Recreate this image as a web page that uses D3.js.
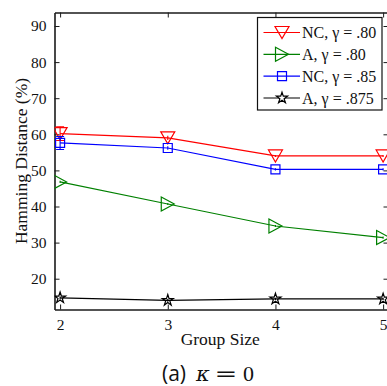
<!DOCTYPE html>
<html>
<head>
<meta charset="utf-8">
<script src="https://cdn.jsdelivr.net/npm/d3@7"></script>
<style>
  html, body { margin: 0; padding: 0; background: #fff; }
  svg { display: block; }
</style>
</head>
<body>
<svg id="chart" width="387" height="386"></svg>
<script>
// Group sizes on the x axis
const groupSizes = [2, 3, 4, 5];

// Hamming distance (%) per series
const ncGamma80 = [60.2, 59.0, 54.0, 54.0];
const aGamma80 = [46.8, 40.7, 34.6, 31.4];
const ncGamma85 = [57.6, 56.2, 50.3, 50.3];
const aGamma875 = [14.7, 14.0, 14.4, 14.4];

// Error bar half-widths
const ncGamma80Err = [1.9, 0.6, 0.3, 0.3];
const ncGamma85Err = [1.8, 0.5, 0.3, 0.3];
const aGamma80Err = [0.3, 0.3, 0.3, 0.3];
const aGamma875Err = [0.4, 0.4, 0.3, 0.3];

// Tick labels
const yTicks = [20, 30, 40, 50, 60, 70, 80, 90];
const xTicks = [2, 3, 4, 5];

const seriesNames = ["NC, γ = .80", "A, γ = .80", "NC, γ = .85", "A, γ = .875"];
const seriesColors = ["#ff0000", "#008000", "#0000ff", "#000000"];
const seriesMarkers = ["triDown", "triRight", "square", "star"];

const series = [
  { name: seriesNames[0], values: ncGamma80, err: ncGamma80Err, color: seriesColors[0], marker: seriesMarkers[0] },
  { name: seriesNames[1], values: aGamma80, err: aGamma80Err, color: seriesColors[1], marker: seriesMarkers[1] },
  { name: seriesNames[2], values: ncGamma85, err: ncGamma85Err, color: seriesColors[2], marker: seriesMarkers[2] },
  { name: seriesNames[3], values: aGamma875, err: aGamma875Err, color: seriesColors[3], marker: seriesMarkers[3] }
];

const svg = d3.select("#chart");
const serif = "'Liberation Serif', 'Times New Roman', serif";

const plot = { left: 54.5, right: 388.5, top: 12.5, bottom: 309.5 };

const x = d3.scaleLinear().domain([1.948, 5.05]).range([plot.left, plot.right]);
const y = d3.scaleLinear().domain([11.47, 93.74]).range([plot.bottom, plot.top]);

// Marker shapes drawn around (0,0)
function markerPath(type) {
  const p = d3.path();
  if (type === "triDown") {
    const w = 7, h = 6;
    p.moveTo(-w, -h); p.lineTo(w, -h); p.lineTo(0, h); p.closePath();
  } else if (type === "triRight") {
    const w = 6.5, h = 7;
    p.moveTo(-w, -h); p.lineTo(w, 0); p.lineTo(-w, h); p.closePath();
  } else if (type === "square") {
    const s = 4.5;
    p.rect(-s, -s, 2 * s, 2 * s);
  } else {
    return d3.symbol(d3.symbolStar, 38)();
  }
  return p.toString();
}

const clipId = "plot-clip";
svg.append("defs").append("clipPath").attr("id", clipId)
  .append("rect")
  .attr("x", plot.left).attr("y", plot.top)
  .attr("width", plot.right - plot.left).attr("height", plot.bottom - plot.top);

// Axes: box with inward ticks
const axisColor = "#1a1a1a";
const tickLen = 5;

const axisLeft = d3.axisLeft(y).tickValues(yTicks).tickSizeInner(-tickLen).tickSizeOuter(0).tickPadding(tickLen + 3);
const axisRight = d3.axisRight(y).tickValues(yTicks).tickSizeInner(-tickLen).tickSizeOuter(0).tickFormat("");
const axisBottom = d3.axisBottom(x).tickValues(xTicks).tickSizeInner(-tickLen).tickSizeOuter(0).tickPadding(tickLen + 4).tickFormat(d3.format("d"));
const axisTop = d3.axisTop(x).tickValues(xTicks).tickSizeInner(-tickLen).tickSizeOuter(0).tickFormat("");

function styleAxis(g) {
  g.selectAll("path.domain").attr("stroke", axisColor).attr("stroke-width", 1.6);
  g.selectAll(".tick line").attr("stroke", axisColor).attr("stroke-width", 1);
  g.selectAll(".tick text").attr("fill", "#111").style("font-family", serif).style("font-size", "15.5px");
}

svg.append("g").attr("transform", `translate(${plot.left},0)`).call(axisLeft).call(styleAxis);
svg.append("g").attr("transform", `translate(${plot.right},0)`).call(axisRight).call(styleAxis);
svg.append("g").attr("transform", `translate(0,${plot.bottom})`).call(axisBottom).call(styleAxis);
svg.append("g").attr("transform", `translate(0,${plot.top})`).call(axisTop).call(styleAxis);

// Data lines, error bars and markers
const line = d3.line().x((d, i) => x(groupSizes[i])).y(d => y(d));
const data = svg.append("g").attr("clip-path", `url(#${clipId})`);

series.forEach(s => {
  data.append("path")
    .datum(s.values)
    .attr("d", line)
    .attr("fill", "none")
    .attr("stroke", s.color)
    .attr("stroke-width", 1.2);

  const eb = data.append("g").attr("stroke", s.color).attr("stroke-width", 1.1);
  s.values.forEach((v, i) => {
    const cx = x(groupSizes[i]);
    const y0 = y(v - s.err[i]);
    const y1 = y(v + s.err[i]);
    eb.append("line").attr("x1", cx).attr("x2", cx).attr("y1", y0).attr("y2", y1);
    if (s.err[i] >= 1) {
      eb.append("line").attr("x1", cx - 4).attr("x2", cx + 4).attr("y1", y0).attr("y2", y0);
      eb.append("line").attr("x1", cx - 4).attr("x2", cx + 4).attr("y1", y1).attr("y2", y1);
    }
  });

  data.selectAll(null)
    .data(s.values)
    .enter()
    .append("path")
    .attr("d", markerPath(s.marker))
    .attr("transform", (d, i) => `translate(${x(groupSizes[i])},${y(d)})`)
    .attr("fill", "none")
    .attr("stroke", s.color)
    .attr("stroke-width", 1.2);
});

// Axis titles
svg.append("text")
  .attr("x", (plot.left + 382) / 2 + 2)
  .attr("y", 345)
  .attr("text-anchor", "middle")
  .style("font-family", serif)
  .style("font-size", "17.5px")
  .attr("fill", "#111")
  .text("Group Size");

svg.append("text")
  .attr("transform", `translate(27,${(plot.top + plot.bottom) / 2}) rotate(-90)`)
  .attr("text-anchor", "middle")
  .style("font-family", serif)
  .style("font-size", "17.5px")
  .attr("fill", "#111")
  .text("Hamming Distance (%)");

// Legend
const legend = { x: 257.5, y: 17.5, w: 124.5, h: 92.5 };
const lg = svg.append("g");
lg.append("rect")
  .attr("x", legend.x).attr("y", legend.y)
  .attr("width", legend.w).attr("height", legend.h)
  .attr("fill", "#fff")
  .attr("stroke", "#111")
  .attr("stroke-width", 1.2);

const rowY = d3.scalePoint().domain(seriesNames).range([32.5, 98]);
series.forEach(s => {
  const ry = rowY(s.name);
  lg.append("line")
    .attr("x1", 263.5).attr("x2", 300)
    .attr("y1", ry).attr("y2", ry)
    .attr("stroke", s.color).attr("stroke-width", 1.2);
  lg.append("path")
    .attr("d", markerPath(s.marker))
    .attr("transform", `translate(282,${ry})`)
    .attr("fill", s.color === "#000000" ? "#fff" : "none")
    .attr("stroke", s.color)
    .attr("stroke-width", 1.2);
  lg.append("text")
    .attr("x", 302)
    .attr("y", ry + 5.5)
    .style("font-family", serif)
    .style("font-size", "16px")
    .attr("fill", "#111")
    .text(s.name);
});

// Caption: "(a) κ = 0"
const capY = 381;
const capG = svg.append("g").attr("fill", "#111").style("font-size", "21px");
capG.append("text").attr("x", 162).attr("y", capY)
  .style("font-family", "'Open Sans', 'DejaVu Sans', sans-serif").text("(a)");
capG.append("text").attr("x", 196).attr("y", capY)
  .style("font-family", "'DejaVu Serif', serif").style("font-style", "italic").text("κ");
capG.append("text")
  .attr("transform", `translate(226,${capY}) scale(1.3,1)`)
  .attr("text-anchor", "middle")
  .style("font-family", "'DejaVu Serif', serif").text("=");
capG.append("text").attr("x", 243).attr("y", capY)
  .style("font-family", serif).style("font-size", "22px").text("0");
</script>
</body>
</html>
